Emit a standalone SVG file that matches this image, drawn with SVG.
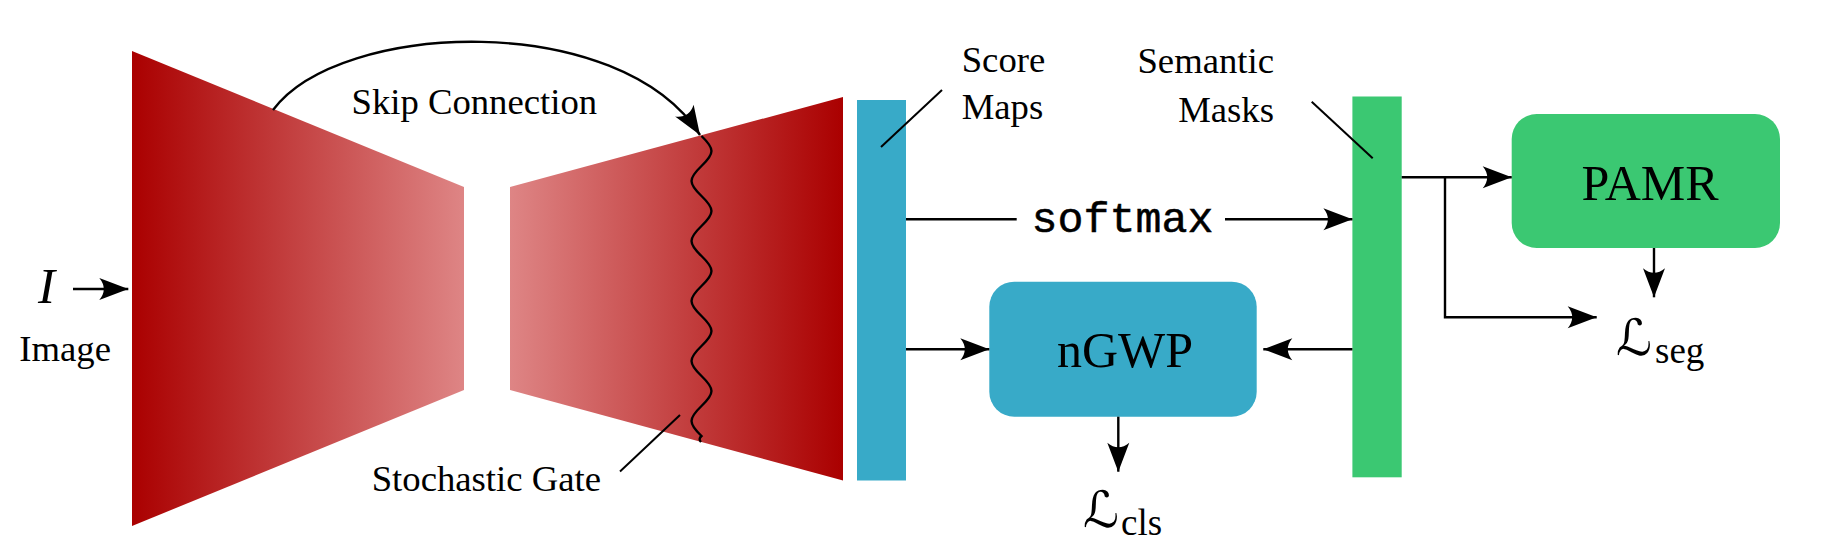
<svg xmlns="http://www.w3.org/2000/svg" width="1836" height="554" viewBox="0 0 1836 554">
  <defs>
    <linearGradient id="gEnc" gradientUnits="userSpaceOnUse" x1="132" y1="0" x2="464" y2="0">
      <stop offset="0" stop-color="#aa0000"/>
      <stop offset="1" stop-color="#de8585"/>
    </linearGradient>
    <linearGradient id="gDec" gradientUnits="userSpaceOnUse" x1="510" y1="0" x2="843" y2="0">
      <stop offset="0" stop-color="#de8585"/>
      <stop offset="1" stop-color="#aa0000"/>
    </linearGradient>
    <marker id="arr" markerUnits="userSpaceOnUse" markerWidth="34" markerHeight="28" viewBox="-31 -14 34 28" refX="0" refY="0" orient="auto">
      <path d="M0,0 L-29,-11 Q-20,0 -29,11 Z" fill="#000"/>
    </marker>
  </defs>
  <style>
    .serif { font-family: "Liberation Serif", "Times New Roman", serif; fill: #000; }
    .lbl { font-size: 36.7px; }
    .box { font-size: 50px; }
    .mono { font-family: "Liberation Mono", "Courier New", monospace; font-size: 43.3px; fill: #000; stroke: #000; stroke-width: 0.5px; }
    .cal { font-family: "DejaVu Serif", "DejaVu Sans", serif; font-size: 50px; font-style: italic; fill: #000; }
    .sub { font-family: "Liberation Serif", "Times New Roman", serif; font-size: 37px; fill: #000; }
    .conn { stroke: #000; stroke-width: 2.4; fill: none; }
    .lead { stroke: #000; stroke-width: 2; fill: none; }
    .blue { fill: #38aac8; }
    .green { fill: #3bc872; }
  </style>

  <rect width="1836" height="554" fill="#fff"/>

  <g id="encoder">
    <polygon points="132,51 464,187 464,390 132,526" fill="url(#gEnc)"/>
  </g>

  <g id="decoder">
    <polygon points="510,187 843,97 843,480.5 510,390" fill="url(#gDec)"/>
  </g>

  <g id="stochastic-gate">
    <path class="conn" stroke-width="3" d="M701.5,136 C714.8,148.7 714.8,153.3 701.5,166 S688.2,183.3 701.5,196 S714.8,213.3 701.5,226 S688.2,243.3 701.5,256 S714.8,273.3 701.5,286 S688.2,303.3 701.5,316 S714.8,333.3 701.5,346 S688.2,363.3 701.5,376 S714.8,393.3 701.5,406 S688.2,423.3 701.5,436 Q698,439 701,442"/>
  </g>

  <g id="score-maps">
    <rect class="blue" x="857" y="100" width="49" height="380.5"/>
  </g>

  <g id="semantic-masks">
    <rect class="green" x="1352.4" y="96.5" width="49.3" height="380.8"/>
  </g>

  <g id="ngwp">
    <rect class="blue" x="989.3" y="281.7" width="267.4" height="135" rx="25" ry="25"/>
    <text class="serif box" x="1125" y="366.7" text-anchor="middle" font-size="51">nGWP</text>
  </g>

  <g id="pamr">
    <rect class="green" x="1511.7" y="114" width="268.3" height="134" rx="25" ry="25"/>
    <text class="serif box" x="1650" y="200" text-anchor="middle">PAMR</text>
  </g>

  <g id="connectors">
    <line class="conn" x1="73" y1="289" x2="128.3" y2="289" marker-end="url(#arr)"/>
    <path class="conn" d="M273,110 C340,20 620,10 700,135" marker-end="url(#arr)"/>
    <line class="conn" x1="906" y1="219.3" x2="1016.7" y2="219.3"/>
    <line class="conn" x1="1225" y1="219.3" x2="1352.4" y2="219.3" marker-end="url(#arr)"/>
    <line class="conn" x1="906" y1="349.3" x2="989.3" y2="349.3" marker-end="url(#arr)"/>
    <line class="conn" x1="1352.4" y1="349.3" x2="1263.3" y2="349.3" marker-end="url(#arr)"/>
    <line class="conn" x1="1118.3" y1="416.7" x2="1118.3" y2="471.7" marker-end="url(#arr)"/>
    <line class="conn" x1="1401.7" y1="177.3" x2="1511.7" y2="177.3" marker-end="url(#arr)"/>
    <path class="conn" d="M1445,177.3 V317.3 H1596.7" marker-end="url(#arr)"/>
    <line class="conn" x1="1654" y1="248" x2="1654" y2="297.3" marker-end="url(#arr)"/>
    <line class="lead" x1="881" y1="147" x2="942" y2="90"/>
    <line class="lead" x1="1311.7" y1="101.7" x2="1372.7" y2="158.3"/>
    <line class="lead" x1="620" y1="471.6" x2="680" y2="415"/>
  </g>

  <g id="labels">
    <text class="serif" x="38" y="302.5" font-size="51" font-style="italic">I</text>
    <text class="serif lbl" x="19.3" y="361">Image</text>
    <text class="serif lbl" x="351.5" y="114">Skip Connection</text>
    <text class="serif lbl" x="371.7" y="491">Stochastic Gate</text>
    <text class="serif lbl" x="961.7" y="71.7">Score</text>
    <text class="serif lbl" x="961.7" y="119.3">Maps</text>
    <text class="serif lbl" x="1274" y="73.3" text-anchor="end">Semantic</text>
    <text class="serif lbl" x="1274" y="121.7" text-anchor="end">Masks</text>
    <text class="mono" x="1031.5" y="231.7">softmax</text>
    <text class="cal" x="1083" y="527">ℒ</text>
    <text class="sub" x="1121" y="535">cls</text>
    <text class="cal" x="1616" y="355">ℒ</text>
    <text class="sub" x="1655" y="362.7">seg</text>
  </g>
</svg>
